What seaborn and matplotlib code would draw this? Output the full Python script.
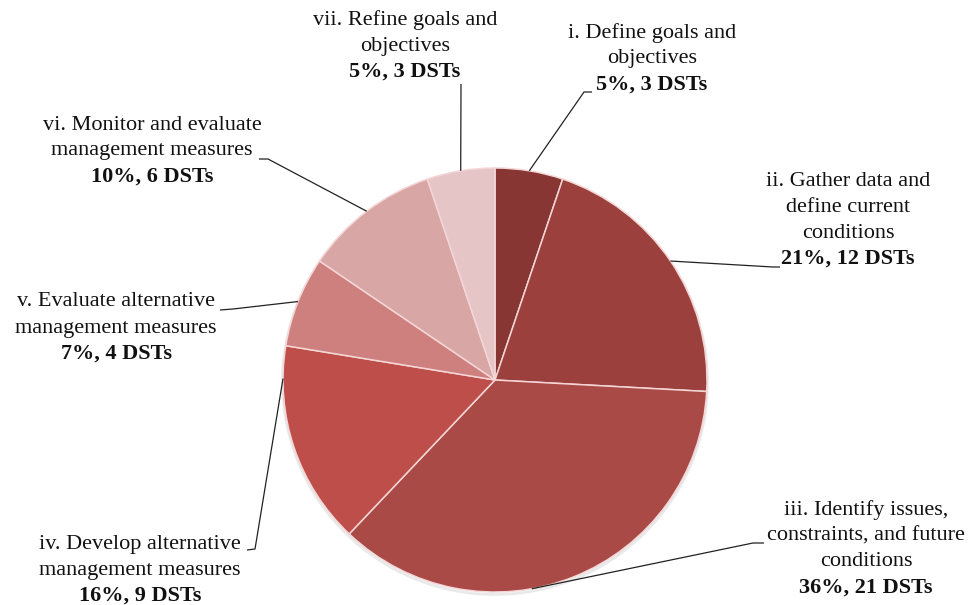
import numpy as np
import matplotlib
matplotlib.use("Agg")
import matplotlib.pyplot as plt
from matplotlib.patches import Circle
import seaborn as sns

# Decision-support tools (DSTs) per planning step
steps = [
    "i. Define goals and\nobjectives",
    "ii. Gather data and\ndefine current\nconditions",
    "iii. Identify issues,\nconstraints, and future\nconditions",
    "iv. Develop alternative\nmanagement measures",
    "v. Evaluate alternative\nmanagement measures",
    "vi. Monitor and evaluate\nmanagement measures",
    "vii. Refine goals and\nobjectives",
]
dst_counts = [3, 12, 21, 9, 4, 6, 3]
colors = ["#873633", "#9B403D", "#A94A47", "#BE4E4A", "#CD807E", "#D9A6A6", "#E6C5C6"]

# Label layout (pixel space, y measured from top): text centre x, first line y,
# leader-line point on the wedge (fraction across the wedge), and elbow points.
label_x = [652, 848, 866, 140, 116, 152, 405]
label_y0 = [33, 181, 510, 544, 302, 125, 20]
wedge_frac = [0.5, 0.5, 0.59, 0.84, 0.5, 0.5, 0.5]
leader_pts = [
    [(584, 92), (592, 92)],
    [(773, 267), (780, 267)],
    [(753, 543), (764, 543)],
    [(255, 549), (247, 550)],
    [(233, 309), (220, 310)],
    [(268, 159), (259, 159)],
    [(461, 84)],
]

W, H = 972, 605
sns.set_theme(style="white")
plt.rcParams["font.family"] = ["Liberation Serif", "DejaVu Serif"]

fig = plt.figure(figsize=(W / 100, H / 100), dpi=100)
ax = fig.add_axes([0, 0, 1, 1])

cx, cy, r = 495, H - 380, 212

# faint shadow around the pie rim
ax.add_patch(Circle((cx, cy - 2), r + 0.5, facecolor="none",
                    edgecolor="#8a8a8a", lw=2.0, alpha=0.18, zorder=1))

wedges, _ = ax.pie(dst_counts, colors=colors, startangle=90, counterclock=False,
                   center=(cx, cy), radius=r, frame=True,
                   wedgeprops=dict(edgecolor="#F4D6D6", linewidth=1.1, zorder=2))
ax.set_xlim(0, W)
ax.set_ylim(0, H)
ax.set_aspect("equal")
ax.axis("off")

total = sum(dst_counts)
line_h = 26
for i, w in enumerate(wedges):
    th1, th2 = w.theta1, w.theta2
    ang = np.deg2rad(th2 - (th2 - th1) * wedge_frac[i])
    start = (cx + r * np.cos(ang), cy + r * np.sin(ang))
    pts = [start] + [(x, H - y) for x, y in leader_pts[i]]
    xs, ys = zip(*pts)
    ax.plot(xs, ys, color="#222222", lw=0.9, zorder=3, solid_capstyle="butt")

    lines = steps[i].split("\n")
    pct = round(100 * dst_counts[i] / total)
    lines_all = lines + [f"{pct}%, {dst_counts[i]} DSTs"]
    for j, txt in enumerate(lines_all):
        bold = j == len(lines_all) - 1
        ax.text(label_x[i], H - (label_y0[i] + j * line_h), txt,
                ha="center", va="center", fontsize=16, color="#111111",
                fontweight="bold" if bold else "normal", zorder=4)

fig.savefig("out.png", dpi=100, facecolor="white")
